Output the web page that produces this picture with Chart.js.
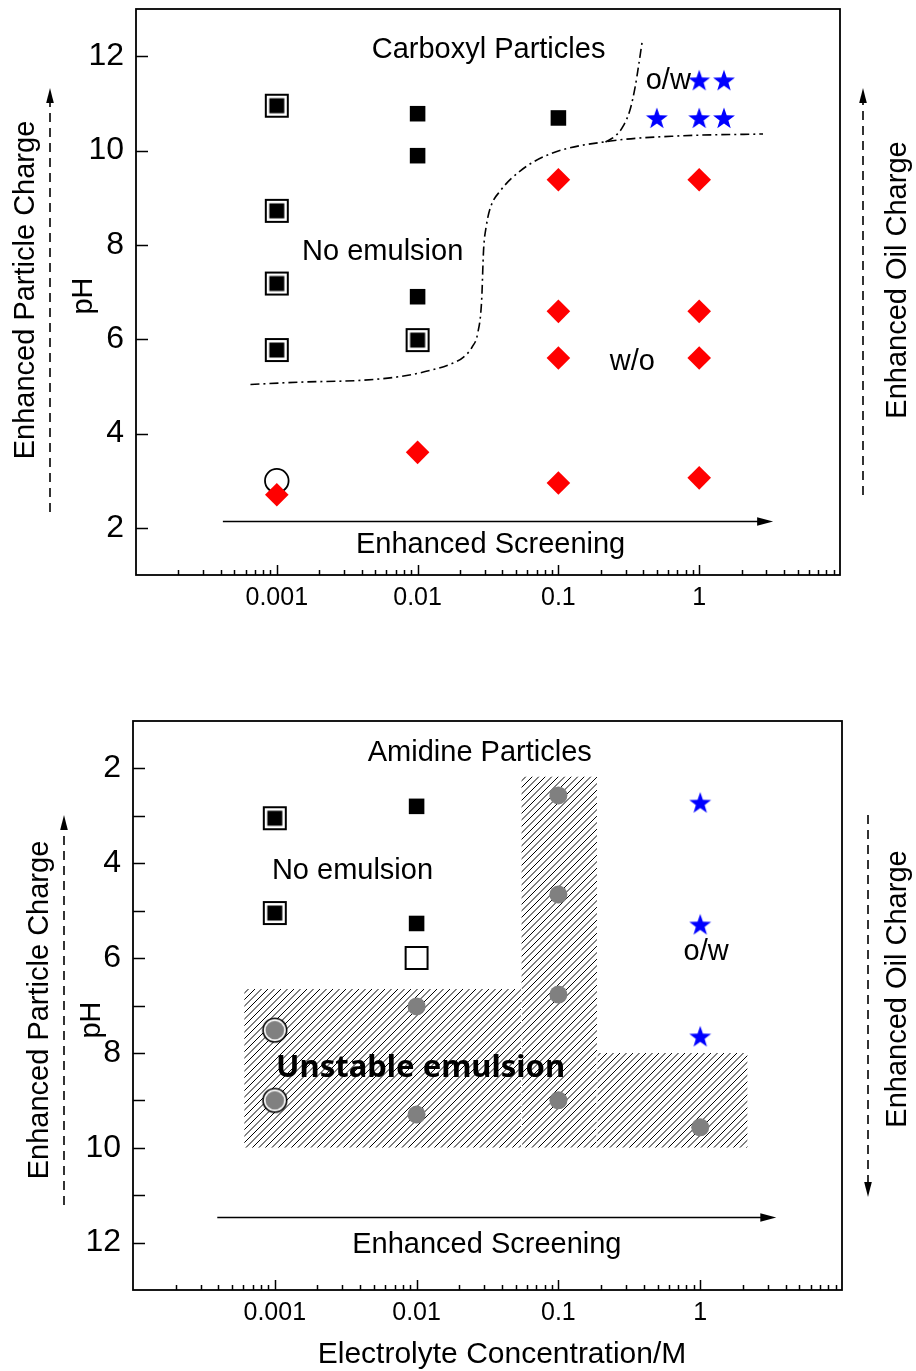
<!DOCTYPE html>
<html>
<head>
<meta charset="utf-8">
<script src="https://cdn.jsdelivr.net/npm/chart.js@4.4.1/dist/chart.umd.min.js"></script>
<style>
html, body { margin: 0; padding: 0; background: #fff; }
canvas { display: block; }
</style>
</head>
<body>
<canvas id="carboxyl" width="916" height="685"></canvas>
<canvas id="amidine" width="916" height="686"></canvas>
<script>
var FONT = '"Liberation Sans", Arial, Helvetica, sans-serif';

// shared axes
var xMin = 1e-4, xMax = 10;
var xTickValues = [0.001, 0.01, 0.1, 1];
var xTickLabels = ['0.001', '0.01', '0.1', '1'];
var pHMin = 1, pHMax = 13;
var pHLabelValues = [2, 4, 6, 8, 10, 12];
var amidinePHTicks = [2, 3, 4, 5, 6, 7, 8, 9, 10, 11, 12];

// carboxyl particles
var cbNoEmulsionOpenX = [0.001, 0.001, 0.001, 0.001, 0.01];
var cbNoEmulsionOpenPH = [10.95, 8.72, 7.18, 5.77, 5.98];
var cbNoEmulsionX = [0.01, 0.01, 0.01, 0.1];
var cbNoEmulsionPH = [10.78, 9.89, 6.9, 10.69];
var cbCircleX = [0.001];
var cbCirclePH = [3.0];
var cbWoX = [0.001, 0.01, 0.1, 0.1, 0.1, 0.1, 1, 1, 1, 1];
var cbWoPH = [2.7, 3.6, 9.38, 6.59, 5.6, 2.95, 9.38, 6.59, 5.6, 3.06];
var cbOwX = [1, 1.5, 0.5, 1, 1.5];
var cbOwPH = [11.49, 11.49, 10.69, 10.69, 10.69];
var cbWoBoundaryX = [6.5e-4, 1.5e-3, 4.1e-3, 7.6e-3, 0.0124, 0.0171, 0.0212, 0.0246, 0.0267, 0.0285, 0.0294, 0.0308, 0.0329, 0.0388, 0.0537, 0.0877, 0.234, 0.733, 2.84];
var cbWoBoundaryPH = [5.04, 5.09, 5.13, 5.21, 5.34, 5.47, 5.62, 5.85, 6.12, 6.82, 7.88, 8.41, 8.79, 9.15, 9.57, 9.93, 10.2, 10.31, 10.35];
var cbOwBoundaryX = [0.216, 0.254, 0.289, 0.324, 0.352, 0.369, 0.394];
var cbOwBoundaryPH = [10.18, 10.31, 10.52, 10.88, 11.37, 11.75, 12.32];

// amidine particles
var amNoEmulsionOpenX = [0.001, 0.001];
var amNoEmulsionOpenPH = [3.05, 5.05];
var amNoEmulsionX = [0.01, 0.01];
var amNoEmulsionPH = [2.8, 5.27];
var amHollowX = [0.01];
var amHollowPH = [6.0];
var amUnstableX = [0.01, 0.01, 0.1, 0.1, 0.1, 0.1, 1];
var amUnstablePH = [7.02, 9.3, 2.57, 4.66, 6.77, 9.0, 9.57];
var amUnstableRingX = [0.001, 0.001];
var amUnstableRingPH = [7.52, 9.0];
var amOwX = [1, 1, 1];
var amOwPH = [2.72, 5.29, 7.65];
var amHatchXFrom = [6.1e-4, 0.055, 0.187];
var amHatchXTo = [0.055, 0.187, 2.15];
var amHatchPHFrom = [6.65, 2.17, 8.0];
var amHatchPHTo = [10, 10, 10];

function pts(xs, ys) {
    return xs.map(function(x, i) { return {x: x, y: ys[i]}; });
}

function makeMarker(size, draw) {
    var c = document.createElement('canvas');
    c.width = size; c.height = size;
    draw(c.getContext('2d'), size / 2);
    return c;
}

var framedSquare = makeMarker(26, function(g) {
    g.fillStyle = '#fff'; g.fillRect(1, 1, 24, 24);
    g.strokeStyle = '#000'; g.lineWidth = 2; g.strokeRect(2, 2, 22, 22);
    g.fillStyle = '#000'; g.fillRect(5.5, 5.5, 15, 15);
});
var blueStar = makeMarker(26, function(g, m) {
    g.fillStyle = '#0000ff';
    g.beginPath();
    for (var i = 0; i < 10; i++) {
        var r = i % 2 ? 4.6 : 11.5;
        var a = -Math.PI / 2 + i * Math.PI / 5;
        g.lineTo(m + r * Math.cos(a), m + 1 + r * Math.sin(a));
    }
    g.closePath(); g.fill();
});
var ringedDot = makeMarker(28, function(g, m) {
    g.fillStyle = '#fff'; g.strokeStyle = '#000'; g.lineWidth = 1.6;
    g.beginPath(); g.arc(m, m, 11.8, 0, Math.PI * 2); g.fill(); g.stroke();
    g.fillStyle = '#808080';
    g.beginPath(); g.arc(m, m, 9.3, 0, Math.PI * 2); g.fill();
});

function xAxis(height) {
    return {
        type: 'logarithmic', min: xMin, max: xMax, position: 'bottom',
        grid: {display: false, drawTicks: false},
        border: {display: false},
        ticks: {
            font: {family: FONT, size: 25}, color: '#000', padding: 8,
            autoSkip: false, maxRotation: 0,
            callback: function(v) { var i = xTickValues.indexOf(v); return i < 0 ? '' : xTickLabels[i]; }
        },
        afterBuildTicks: function(s) { s.ticks = xTickValues.map(function(v) { return {value: v}; }); },
        afterFit: function(s) { s.height = height; s.paddingLeft = 0; s.paddingRight = 0; }
    };
}

function yAxis(width, tickValues, reverse) {
    return {
        type: 'linear', min: pHMin, max: pHMax, reverse: reverse,
        grid: {display: false, drawTicks: false},
        border: {display: false},
        ticks: {
            font: {family: FONT, size: 32}, color: '#000', padding: 12, autoSkip: false,
            callback: function(v) { return pHLabelValues.indexOf(v) < 0 ? '' : String(v); }
        },
        afterBuildTicks: function(s) { s.ticks = tickValues.map(function(v) { return {value: v}; }); },
        afterFit: function(s) { s.width = width; s.paddingTop = 0; s.paddingBottom = 0; }
    };
}

function arrowHead(ctx, x, y, dx, dy, len, half) {
    ctx.beginPath();
    ctx.moveTo(x, y);
    ctx.lineTo(x - dx * len - dy * half, y - dy * len + dx * half);
    ctx.lineTo(x - dx * len + dy * half, y - dy * len - dx * half);
    ctx.closePath(); ctx.fill();
}

function vertText(ctx, text, x, y, size) {
    ctx.save();
    ctx.translate(x, y); ctx.rotate(-Math.PI / 2);
    ctx.font = size + 'px ' + FONT;
    ctx.textAlign = 'center'; ctx.textBaseline = 'middle';
    ctx.fillText(text, 0, 0);
    ctx.restore();
}

function dashedArrow(ctx, x, y0, y1) {
    ctx.save();
    ctx.lineWidth = 1.6; ctx.setLineDash([9, 6]);
    var dir = y1 < y0 ? -1 : 1;
    ctx.beginPath(); ctx.moveTo(x, y0); ctx.lineTo(x, y1 - dir * 12); ctx.stroke();
    ctx.setLineDash([]);
    arrowHead(ctx, x, y1, 0, dir, 15, 3.8);
    ctx.restore();
}

function decor(cfg) {
    return {
        id: 'decor',
        beforeDatasetsDraw: function(chart) {
            if (!cfg.hatch) return;
            var ctx = chart.ctx, x = chart.scales.x, y = chart.scales.y, sp = 6.5;
            ctx.save();
            ctx.strokeStyle = '#000'; ctx.lineWidth = 1;
            var boxes = cfg.hatch.xFrom.map(function(v, i) {
                var l = x.getPixelForValue(v), r = x.getPixelForValue(cfg.hatch.xTo[i]);
                var a = y.getPixelForValue(cfg.hatch.yFrom[i]), b = y.getPixelForValue(cfg.hatch.yTo[i]);
                return {l: l, r: r, t: Math.min(a, b), b: Math.max(a, b)};
            });
            boxes.forEach(function(bx) {
                ctx.save();
                ctx.beginPath(); ctx.rect(bx.l, bx.t, bx.r - bx.l, bx.b - bx.t); ctx.clip();
                ctx.beginPath();
                for (var c = Math.floor((bx.l + bx.t) / sp) * sp; c <= bx.r + bx.b + sp; c += sp) {
                    ctx.moveTo(c - bx.b, bx.b); ctx.lineTo(c - bx.t, bx.t);
                }
                ctx.stroke();
                ctx.restore();
            });
            // faint joins between neighbouring blocks
            ctx.strokeStyle = '#fff'; ctx.lineWidth = 1.2; ctx.setLineDash([5, 3]);
            ctx.beginPath();
            for (var i = 1; i < boxes.length; i++) {
                var top = Math.max(boxes[i].t, boxes[i - 1].t);
                ctx.moveTo(boxes[i].l, top); ctx.lineTo(boxes[i].l, boxes[i].b);
            }
            ctx.stroke();
            ctx.restore();
        },
        afterDatasetsDraw: function(chart) {
            var ctx = chart.ctx, a = chart.chartArea, x = chart.scales.x, y = chart.scales.y;
            ctx.save();
            ctx.strokeStyle = '#000'; ctx.fillStyle = '#000';
            ctx.lineWidth = 1.8;
            ctx.strokeRect(a.left, a.top, a.right - a.left, a.bottom - a.top);
            ctx.lineWidth = 1.5;
            ctx.beginPath();
            cfg.yTicks.forEach(function(v) {
                var py = Math.round(y.getPixelForValue(v)) + 0.5;
                ctx.moveTo(a.left, py); ctx.lineTo(a.left + 12, py);
            });
            for (var e = -4; e <= 0; e++) {
                for (var k = 1; k <= 9; k++) {
                    var v = k * Math.pow(10, e);
                    if (v <= xMin * 1.0001 || v >= xMax * 0.9999) continue;
                    var px = Math.round(x.getPixelForValue(v)) + 0.5;
                    ctx.moveTo(px, a.bottom); ctx.lineTo(px, a.bottom - (k === 1 ? 10 : 5));
                }
            }
            ctx.stroke();

            // notes inside the plot
            ctx.textAlign = 'center'; ctx.textBaseline = 'alphabetic';
            cfg.notes.forEach(function(n) {
                ctx.font = n.bold ? 'bold ' + n.size + 'px "Noto Sans", "Open Sans", sans-serif' : '29px ' + FONT;
                ctx.fillText(n.text, x.getPixelForValue(n.x), y.getPixelForValue(n.y));
            });
            var ax0 = x.getPixelForValue(cfg.arrow.x0), ax1 = x.getPixelForValue(cfg.arrow.x1);
            var ay = Math.round(y.getPixelForValue(cfg.arrow.y)) + 0.5;
            ctx.lineWidth = 1.6;
            ctx.beginPath(); ctx.moveTo(ax0, ay); ctx.lineTo(ax1 - 10, ay); ctx.stroke();
            arrowHead(ctx, ax1, ay, 1, 0, 16, 4.2);

            // labels outside the plot
            vertText(ctx, 'Enhanced Particle Charge', cfg.side.leftText.x, cfg.side.leftText.y, 29);
            vertText(ctx, 'pH', cfg.side.pH.x, cfg.side.pH.y, 29);
            vertText(ctx, 'Enhanced Oil Charge', cfg.side.rightText.x, cfg.side.rightText.y, 29);
            dashedArrow(ctx, cfg.side.leftArrow.x, cfg.side.leftArrow.y0, cfg.side.leftArrow.y1);
            dashedArrow(ctx, cfg.side.rightArrow.x, cfg.side.rightArrow.y0, cfg.side.rightArrow.y1);
            if (cfg.title) {
                ctx.font = '30px ' + FONT; ctx.textAlign = 'center'; ctx.textBaseline = 'alphabetic';
                ctx.fillText(cfg.title.text, cfg.title.x, cfg.title.y);
            }
            ctx.restore();
        }
    };
}

function baseOptions(pad, yWidth, xHeight, yTicks, reverse) {
    return {
        responsive: false, animation: false, devicePixelRatio: 1, events: [],
        layout: {padding: pad, autoPadding: false},
        plugins: {legend: {display: false}, tooltip: {enabled: false}},
        scales: {x: xAxis(xHeight), y: yAxis(yWidth, yTicks, reverse)}
    };
}

function curve(xs, ys) {
    return {
        data: pts(xs, ys), showLine: true, pointRadius: 0, borderColor: '#000', borderWidth: 1.6,
        borderDash: [9, 4, 2, 4], cubicInterpolationMode: 'monotone', fill: false
    };
}

new Chart(document.getElementById('carboxyl'), {
    type: 'scatter',
    data: {
        datasets: [
            {data: pts(cbOwX, cbOwPH), pointStyle: blueStar},
            {data: pts(cbWoX, cbWoPH), pointStyle: 'rectRot', pointRadius: 11.8, backgroundColor: '#ff0000', borderWidth: 0},
            {data: pts(cbCircleX, cbCirclePH), pointStyle: 'circle', pointRadius: 11.8, backgroundColor: 'rgba(0,0,0,0)', borderColor: '#000', borderWidth: 1.8},
            {data: pts(cbNoEmulsionX, cbNoEmulsionPH), pointStyle: 'rect', pointRadius: 11, backgroundColor: '#000', borderWidth: 0},
            {data: pts(cbNoEmulsionOpenX, cbNoEmulsionOpenPH), pointStyle: framedSquare},
            curve(cbOwBoundaryX, cbOwBoundaryPH),
            curve(cbWoBoundaryX, cbWoBoundaryPH)
        ]
    },
    options: baseOptions({left: 0, right: 76, top: 9, bottom: 0}, 136, 110, pHLabelValues, false),
    plugins: [decor({
        yTicks: pHLabelValues,
        notes: [
            {text: 'Carboxyl Particles', x: 0.0319, y: 11.96},
            {text: 'No emulsion', x: 0.00565, y: 7.67},
            {text: 'w/o', x: 0.335, y: 5.34},
            {text: 'o/w', x: 0.603, y: 11.3},
            {text: 'Enhanced Screening', x: 0.033, y: 1.47}
        ],
        arrow: {x0: 4.14e-4, x1: 3.35, y: 2.15},
        side: {
            leftText: {x: 26, y: 290}, pH: {x: 84, y: 296}, rightText: {x: 898, y: 280},
            leftArrow: {x: 50, y0: 512, y1: 88}, rightArrow: {x: 863, y0: 495, y1: 88}
        }
    })]
});

new Chart(document.getElementById('amidine'), {
    type: 'scatter',
    data: {
        datasets: [
            {data: pts(amOwX, amOwPH), pointStyle: blueStar},
            {data: pts(amUnstableRingX, amUnstableRingPH), pointStyle: ringedDot},
            {data: pts(amUnstableX, amUnstablePH), pointStyle: 'circle', pointRadius: 9, backgroundColor: '#808080', borderWidth: 0},
            {data: pts(amHollowX, amHollowPH), pointStyle: 'rect', pointRadius: 15.5, backgroundColor: '#fff', borderColor: '#000', borderWidth: 2},
            {data: pts(amNoEmulsionX, amNoEmulsionPH), pointStyle: 'rect', pointRadius: 11, backgroundColor: '#000', borderWidth: 0},
            {data: pts(amNoEmulsionOpenX, amNoEmulsionOpenPH), pointStyle: framedSquare}
        ]
    },
    options: baseOptions({left: 0, right: 74, top: 36, bottom: 0}, 133, 81, amidinePHTicks, true),
    plugins: [decor({
        yTicks: amidinePHTicks,
        hatch: {xFrom: amHatchXFrom, xTo: amHatchXTo, yFrom: amHatchPHFrom, yTo: amHatchPHTo},
        notes: [
            {text: 'Amidine Particles', x: 0.0279, y: 1.85},
            {text: 'No emulsion', x: 0.00353, y: 4.34},
            {text: 'o/w', x: 1.1, y: 6.05},
            {text: 'Unstable emulsion', x: 0.01067, y: 8.5, bold: true, size: 31},
            {text: 'Enhanced Screening', x: 0.0313, y: 12.23}
        ],
        arrow: {x0: 3.93e-4, x1: 3.44, y: 11.47},
        side: {
            leftText: {x: 40, y: 325}, pH: {x: 92, y: 335}, rightText: {x: 898, y: 304},
            leftArrow: {x: 64, y0: 520, y1: 130}, rightArrow: {x: 868, y0: 130, y1: 512}
        },
        title: {text: 'Electrolyte Concentration/M', x: 502, y: 678}
    })]
});
</script>
</body>
</html>
